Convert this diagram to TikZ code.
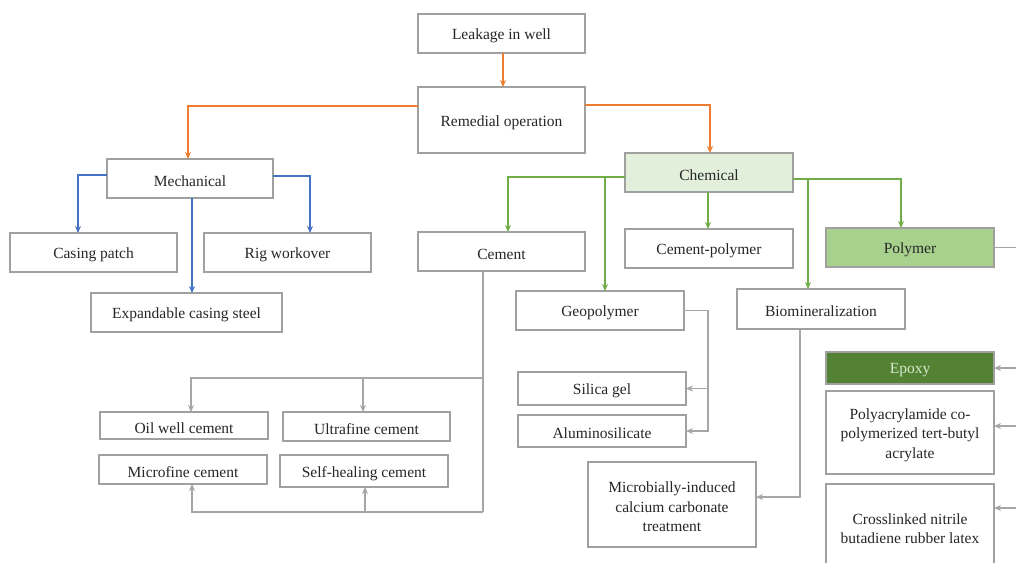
\documentclass[tikz,border=0pt]{standalone}
\usepackage{fontspec}
\setmainfont{Liberation Serif}
\usetikzlibrary{arrows.meta}
\definecolor{bordergray}{HTML}{A0A0A0}
\definecolor{linegray}{HTML}{A6A6A6}
\definecolor{orangeC}{HTML}{ED7D31}
\definecolor{blueC}{HTML}{4472C4}
\definecolor{greenC}{HTML}{70AD47}
\definecolor{chemfill}{HTML}{E2EFDA}
\definecolor{polyfill}{HTML}{A9D18E}
\definecolor{epoxyfill}{HTML}{548235}
\definecolor{epoxytext}{HTML}{D5EACB}
\begin{document}
\begin{tikzpicture}[x=1pt,y=-1pt,
  box/.style={draw=bordergray, line width=1.1pt, fill=white, inner sep=0pt, outer sep=0pt,
    anchor=north west},
  txt/.style={align=center, font=\fontsize{15.5}{19.5}\selectfont, text=black!85,
    inner sep=0pt, yshift=-2.5pt},
  conn/.style={line width=1.3pt, -{Stealth[length=7pt,width=6pt]}},
  orng/.style={conn, draw=orangeC},
  blu/.style={conn, draw=blueC},
  grn/.style={conn, draw=greenC},
  gry/.style={conn, draw=linegray},
  gryline/.style={line width=1.3pt, draw=linegray}]
\useasboundingbox (0,0) rectangle (1016,562);
\clip (0,0) rectangle (1016,562);
\fill[white] (0,0) rectangle (1016,562);
% nodes
\node[box, minimum width=167, minimum height=39, label={[txt]center:Leakage in well}] (leak) at (418,14) {};
\node[box, minimum width=167, minimum height=66, label={[txt]center:Remedial operation}] (remed) at (418,87) {};
\node[box, minimum width=166, minimum height=39, label={[txt]center:Mechanical}] (mech) at (107,159) {};
\node[box, minimum width=167, minimum height=39, label={[txt]center:Casing patch}] (casing) at (10,233) {};
\node[box, minimum width=167, minimum height=39, label={[txt]center:Rig workover}] (rig) at (204,233) {};
\node[box, minimum width=191, minimum height=39, label={[txt]center:Expandable casing steel}] (expand) at (91,293) {};
\node[box, minimum width=168, minimum height=39, fill=chemfill, label={[txt]center:Chemical}] (chem) at (625,153) {};
\node[box, minimum width=167, minimum height=39, label={[txt]center:Cement}] (cement) at (418,232) {};
\node[box, minimum width=168, minimum height=39, label={[txt]center:Cement-polymer}] (cpoly) at (625,229) {};
\node[box, minimum width=168, minimum height=39, fill=polyfill, label={[txt]center:Polymer}] (poly) at (826,228) {};
\node[box, minimum width=168, minimum height=39, label={[txt]center:Geopolymer}] (geo) at (516,291) {};
\node[box, minimum width=168, minimum height=40, label={[txt]center:Biomineralization}] (bio) at (737,289) {};
\node[box, minimum width=168, minimum height=32, fill=epoxyfill, label={[txt, text=epoxytext]center:Epoxy}] (epoxy) at (826,352) {};
\node[box, minimum width=168, minimum height=83, label={[txt]center:{Polyacrylamide co-\\polymerized tert-butyl\\acrylate}}] (polyac) at (826,391) {};
\node[box, minimum width=168, minimum height=84, label={[txt]center:{Crosslinked nitrile\\butadiene rubber latex}}] (cross) at (826,484) {};
\node[box, minimum width=168, minimum height=33, label={[txt]center:Silica gel}] (silica) at (518,372) {};
\node[box, minimum width=168, minimum height=32, label={[txt]center:Aluminosilicate}] (alum) at (518,415) {};
\node[box, minimum width=168, minimum height=85, label={[txt]center:{Microbially-induced\\calcium carbonate\\treatment}}] (micro) at (588,462) {};
\node[box, minimum width=168, minimum height=27, label={[txt]center:Oil well cement}] (oil) at (100,412) {};
\node[box, minimum width=167, minimum height=29, label={[txt]center:Ultrafine cement}] (ultra) at (283,412) {};
\node[box, minimum width=168, minimum height=29, label={[txt]center:Microfine cement}] (microf) at (99,455) {};
\node[box, minimum width=168, minimum height=32, label={[txt]center:Self-healing cement}] (self) at (280,455) {};
% orange
\draw[orng] (503,0 |- leak.south) -- (503,0 |- remed.north);
\draw[orng] (remed.west |- 0,106) -| (188,0 |- mech.north);
\draw[orng] (remed.east |- 0,105) -| (710,0 |- chem.north);
% blue
\draw[blu] (mech.west |- 0,175) -| (78,0 |- casing.north);
\draw[blu] (mech.east |- 0,176) -| (310,0 |- rig.north);
\draw[blu] (192,0 |- mech.south) -- (192,0 |- expand.north);
% green
\draw[grn] (chem.west |- 0,177) -| (508,0 |- cement.north);
\coordinate (gl) at (605,177);
\draw[grn] (gl) -- (gl |- geo.north);
\draw[grn] (708,0 |- chem.south) -- (708,0 |- cpoly.north);
\draw[grn] (chem.east |- 0,179) -| (901,0 |- poly.north);
\coordinate (gr) at (808,179);
\draw[grn] (gr) -- (gr |- bio.north);
% gray: cement
\coordinate (cv) at (483,378);
\coordinate (cb) at (483,512);
\draw[gryline] (cv |- cement.south) -- (cb);
\draw[gry] (cv) -| (191,0 |- oil.north);
\coordinate (c1) at (363,378);
\draw[gry] (c1) -- (c1 |- ultra.north);
\draw[gry] (cb) -| (192,0 |- microf.south);
\coordinate (c2) at (365,512);
\draw[gry] (c2) -- (c2 |- self.south);
% gray: geopolymer
\coordinate (gv) at (708,0);
\draw[gry] (geo.east) -- (gv |- geo.east) -- (gv |- alum.east) -- (alum.east);
\draw[gry] (gv |- silica.east) -- (silica.east);
% gray: biomineralization
\coordinate (bv) at (800,497);
\draw[gry] (bv |- bio.south) -- (bv) -- (micro.east |- bv);
% gray: polymer
\coordinate (pv) at (1040,0);
\draw[gryline] (poly.east) -- (pv |- poly.east) -- (pv |- 0,560);
\draw[gry] (pv |- epoxy.east) -- (epoxy.east);
\draw[gry] (pv |- 0,426) -- (polyac.east |- 0,426);
\draw[gry] (pv |- 0,508) -- (cross.east |- 0,508);
\end{tikzpicture}
\end{document}
